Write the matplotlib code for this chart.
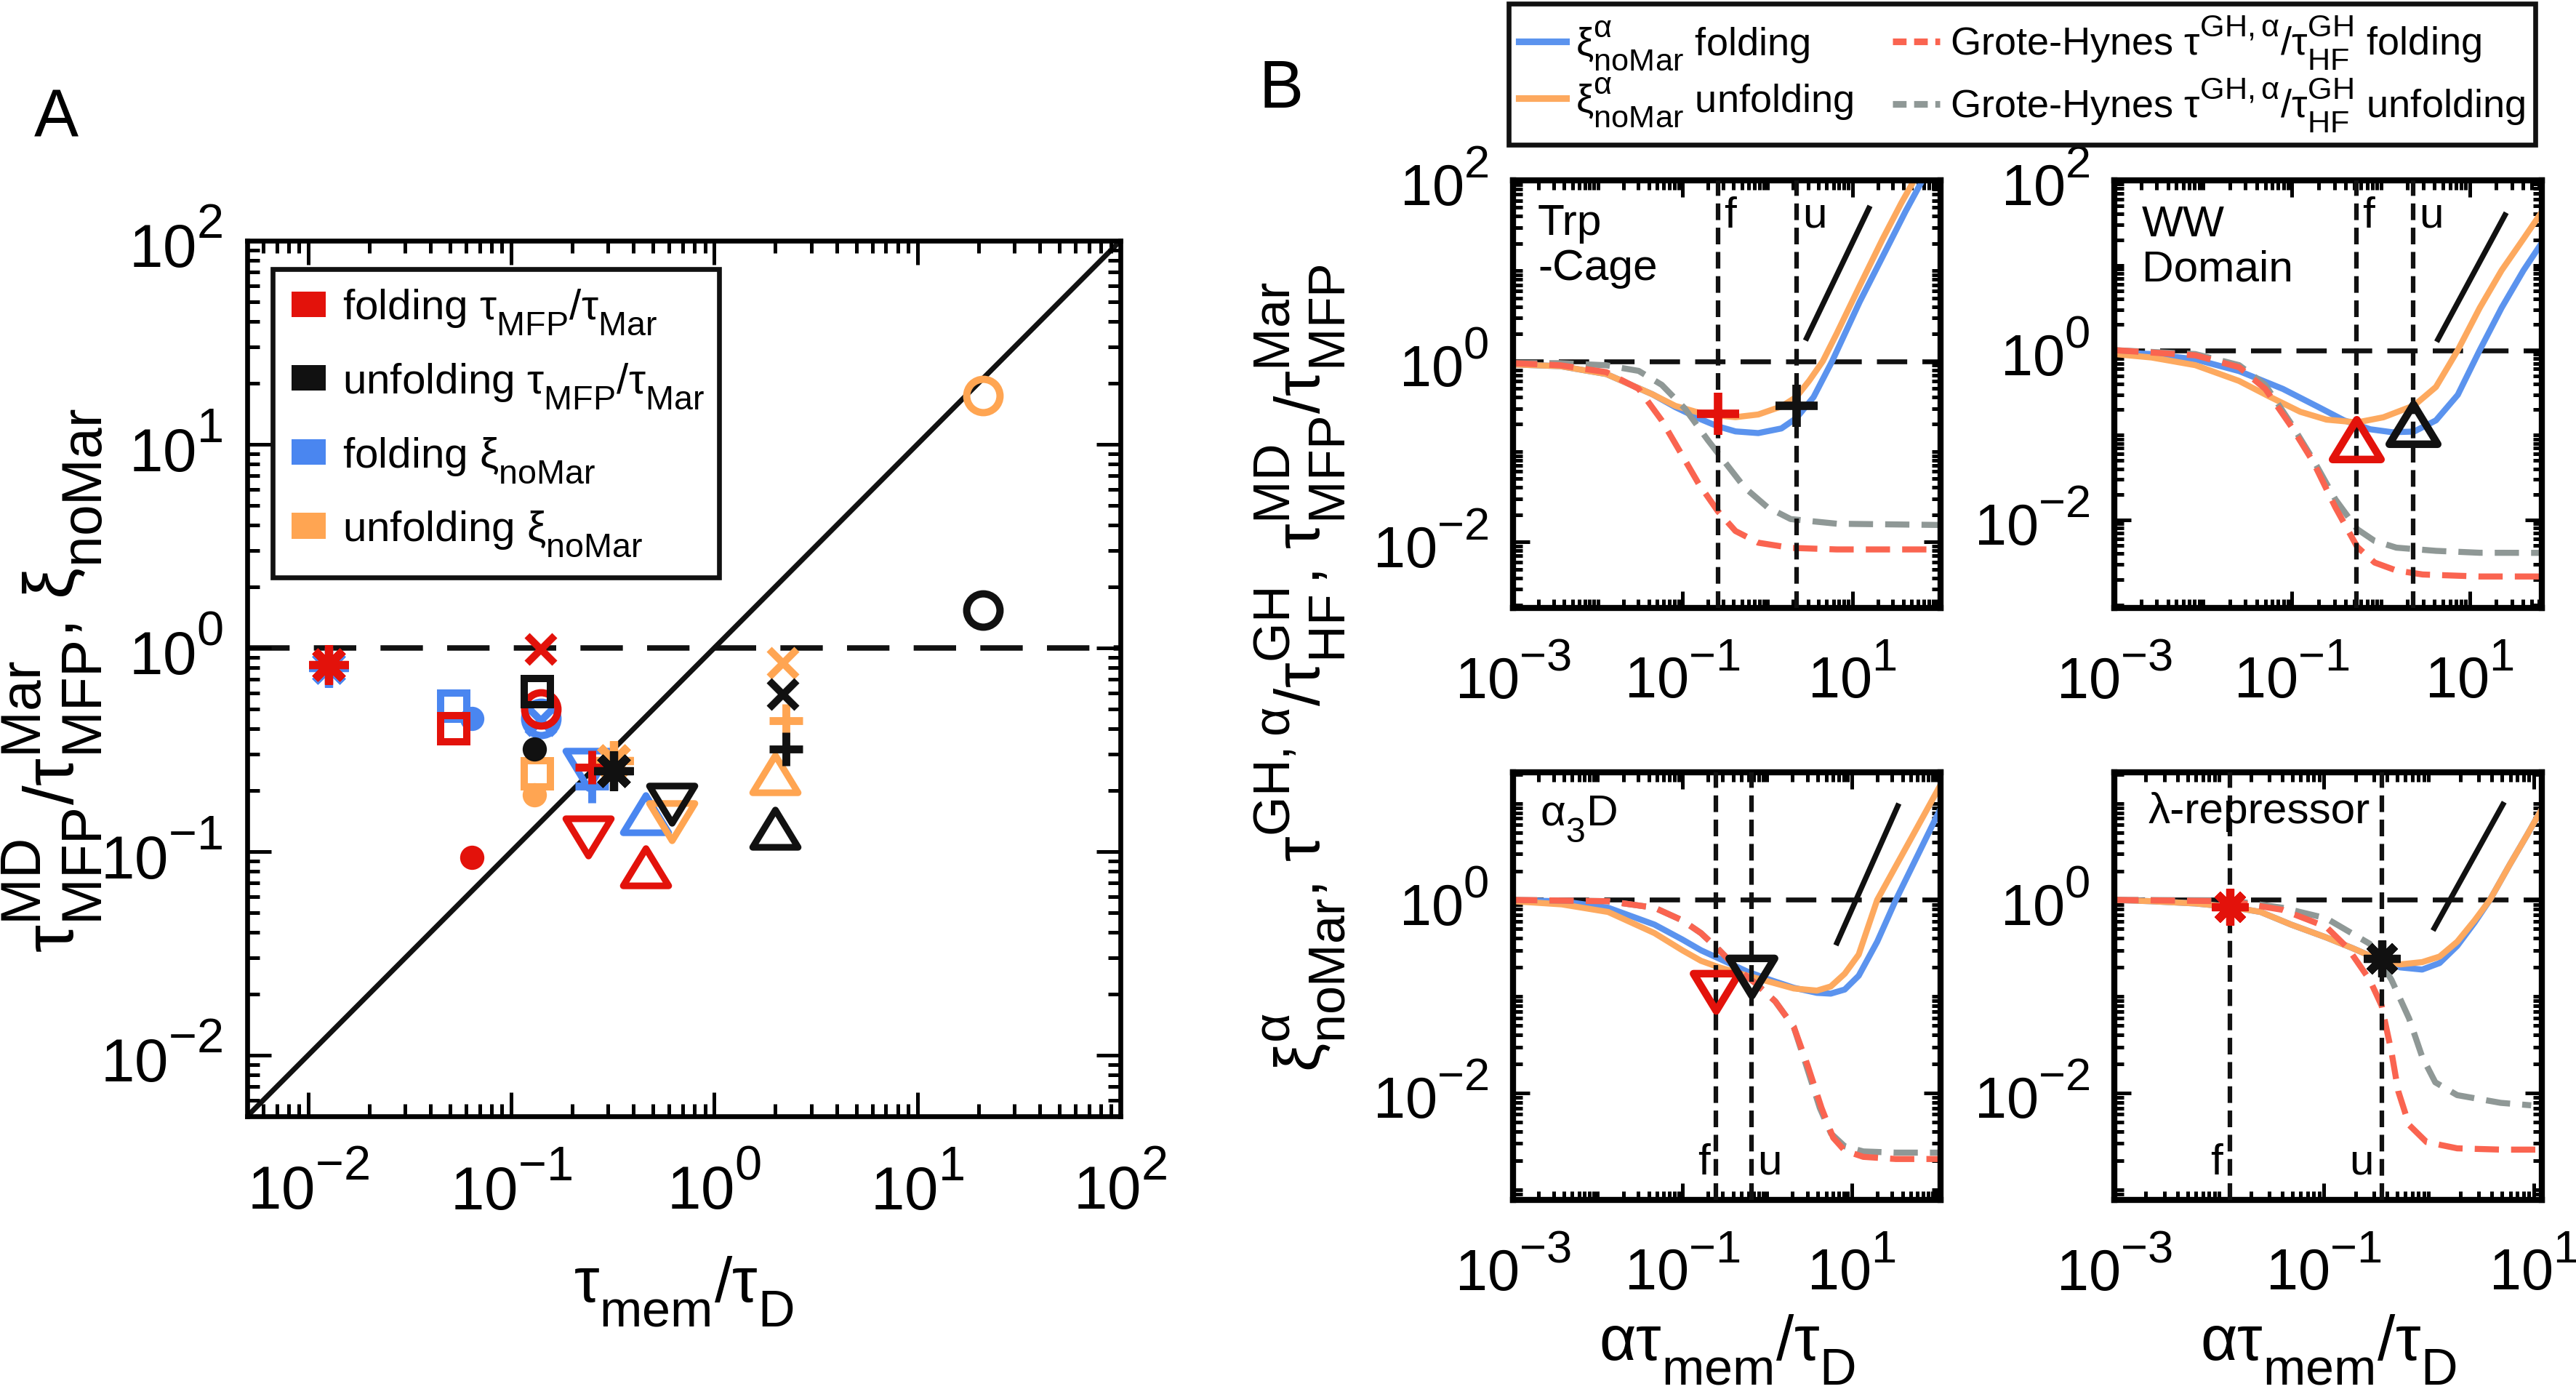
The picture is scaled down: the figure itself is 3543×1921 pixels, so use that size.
import numpy as np
import matplotlib.pyplot as plt
from matplotlib.patches import Patch
from matplotlib.lines import Line2D
from matplotlib.path import Path
from matplotlib.markers import MarkerStyle
from matplotlib.ticker import LogLocator, NullFormatter
import matplotlib._mathtext as mtext

plt.rcParams['font.family'] = ['Liberation Sans', 'DejaVu Sans']
plt.rcParams['mathtext.fontset'] = 'custom'
plt.rcParams['mathtext.rm'] = 'Liberation Sans'
plt.rcParams['mathtext.it'] = 'Liberation Sans'
plt.rcParams['mathtext.default'] = 'regular'
plt.rcParams['axes.unicode_minus'] = False
plt.rcParams['lines.scale_dashes'] = False
# MATLAB-style scripts: a bit larger, subscripts dropped lower, superscripts higher
mtext.SHRINK_FACTOR = 0.8
mtext.FontConstantsBase.sub1 = 0.75
mtext.FontConstantsBase.sub2 = 0.75
mtext.FontConstantsBase.sup1 = 0.9

RED = '#E3120B'
BLACK = '#111111'
BLUE = '#4A86F0'
ORANGE = '#FFA552'
L_BLUE = '#5B93EE'
L_ORANGE = '#FDA95F'
L_RED = '#FA6450'
L_GRAY = '#8F9896'

# ---------------- panel A data (one entry per protein / marker shape)
shapes = ['asterisk', 'plus', 'tri_up', 'tri_down', 'ring', 'dot', 'square', 'cross']
fold_x = [0.0126, 0.25, 0.46, 0.24, 0.14, 0.064, 0.052, 0.14]
unfold_x = [0.32, 2.25, 2.0, 0.62, 21.0, 0.13, 0.134, 2.18]
fold_tau = [0.83, 0.26, 0.084, 0.118, 0.50, 0.094, 0.40, 0.98]
unfold_tau = [0.25, 0.32, 0.13, 0.17, 1.53, 0.32, 0.61, 0.59]
fold_xi = [0.80, 0.21, 0.153, 0.254, 0.45, 0.45, 0.52, 0.44]
unfold_xi = [0.28, 0.44, 0.242, 0.14, 17.3, 0.19, 0.242, 0.84]

# ---------------- panel B data
# Trp-cage
trp_xi_f_x = [0.001, 0.0036, 0.0126, 0.044, 0.082, 0.154, 0.26, 0.42, 0.78, 1.46, 2.18, 3.5, 5.8, 12.2, 22.9, 42.7, 66]
trp_xi_f_y = [0.92, 0.88, 0.72, 0.43, 0.31, 0.233, 0.19, 0.167, 0.16, 0.18, 0.233, 0.40, 1.0, 4.5, 14.4, 45.7, 97]
trp_xi_u_x = [0.001, 0.0036, 0.0126, 0.044, 0.082, 0.154, 0.26, 0.42, 0.78, 1.46, 2.18, 3.1, 4.5, 6.56, 12.2, 22.9, 37.8, 53.6]
trp_xi_u_y = [0.92, 0.88, 0.72, 0.43, 0.32, 0.27, 0.25, 0.24, 0.257, 0.315, 0.40, 0.605, 1.0, 2.02, 6.76, 22.6, 55.8, 100]
trp_gh_f_x = [0.001, 0.0036, 0.0126, 0.0303, 0.0567, 0.0936, 0.154, 0.26, 0.42, 0.78, 1.88, 6.56, 110]
trp_gh_f_y = [0.95, 0.90, 0.755, 0.494, 0.221, 0.099, 0.0443, 0.0219, 0.0132, 0.0098, 0.0086, 0.00826, 0.00826]
trp_gh_u_x = [0.001, 0.0036, 0.0126, 0.0303, 0.0567, 0.106, 0.198, 0.327, 0.538, 1.0, 1.88, 6.56, 110]
trp_gh_u_y = [0.95, 0.95, 0.90, 0.78, 0.547, 0.30, 0.134, 0.073, 0.040, 0.0242, 0.0179, 0.0159, 0.0154]
trp_fu_x = [0.26, 2.2]
trp_fu_y = [0.26, 0.32]
trp_slope_x = [2.9, 15.7]
trp_slope_y = [1.8, 49]

# WW domain
ww_xi_f_x = [0.001, 0.00262, 0.00815, 0.0254, 0.0789, 0.195, 0.386, 0.762, 1.34, 2.37, 4.18, 7.36, 13.0, 22.9, 40.4, 65]
ww_xi_f_y = [0.94, 0.90, 0.78, 0.567, 0.35, 0.216, 0.149, 0.117, 0.108, 0.110, 0.149, 0.298, 1.0, 3.15, 8.7, 18.4]
ww_xi_u_x = [0.001, 0.00262, 0.00815, 0.0254, 0.0561, 0.124, 0.245, 0.542, 1.07, 2.37, 4.18, 7.36, 13.0, 22.9, 40.4, 65]
ww_xi_u_y = [0.90, 0.82, 0.666, 0.434, 0.283, 0.188, 0.152, 0.141, 0.162, 0.223, 0.369, 1.0, 3.15, 8.7, 20.5, 42.5]
ww_gh_f_x = [0.001, 0.00815, 0.0254, 0.0501, 0.0989, 0.174, 0.308, 0.542, 0.853, 1.50, 2.97, 13.0, 65]
ww_gh_f_y = [1.0, 0.87, 0.63, 0.35, 0.125, 0.048, 0.0141, 0.00483, 0.00315, 0.00254, 0.00228, 0.00216, 0.00216]
ww_gh_u_x = [0.001, 0.00815, 0.0254, 0.0501, 0.0989, 0.174, 0.308, 0.542, 0.853, 1.50, 4.18, 13.0, 65]
ww_gh_u_y = [1.0, 0.90, 0.666, 0.39, 0.134, 0.051, 0.0175, 0.0078, 0.00566, 0.00472, 0.00433, 0.00411, 0.0041]
ww_fu_x = [0.53, 2.3]
ww_fu_y = [0.089, 0.134]
ww_slope_x = [4.4, 25]
ww_slope_y = [1.34, 39]

# alpha3D
a3d_xi_f_x = [0.001, 0.00376, 0.0133, 0.0469, 0.1, 0.166, 0.274, 0.585, 1.1, 2.07, 3.88, 5.66, 8.27, 12.1, 20, 33.2, 55, 91, 117]
a3d_xi_f_y = [0.99, 0.97, 0.83, 0.555, 0.389, 0.301, 0.246, 0.181, 0.148, 0.123, 0.109, 0.107, 0.118, 0.164, 0.369, 1.0, 2.47, 6.1, 9.55]
a3d_xi_u_x = [0.001, 0.00376, 0.0133, 0.0469, 0.1, 0.166, 0.274, 0.585, 1.1, 2.07, 3.88, 5.66, 8.27, 12.1, 20, 33.2, 55, 117]
a3d_xi_u_y = [0.97, 0.90, 0.75, 0.453, 0.301, 0.234, 0.20, 0.164, 0.141, 0.121, 0.115, 0.127, 0.172, 0.272, 1.0, 2.24, 5.0, 16.7]
a3d_gh_f_x = [0.001, 0.0133, 0.0469, 0.1, 0.166, 0.274, 0.455, 0.753, 1.25, 2.07, 3.01, 4.4, 6.04, 8.27, 13.7, 33.2, 117]
a3d_gh_f_y = [1.0, 0.97, 0.83, 0.614, 0.453, 0.301, 0.19, 0.134, 0.089, 0.0483, 0.0194, 0.0070, 0.00344, 0.00253, 0.00218, 0.00207, 0.00207]
a3d_gh_u_x = [0.001, 0.0133, 0.0469, 0.1, 0.166, 0.274, 0.455, 0.753, 1.25, 2.07, 2.9, 4.2, 5.7, 8.27, 13.7, 33.2, 117]
a3d_gh_u_y = [1.0, 0.97, 0.83, 0.614, 0.453, 0.301, 0.19, 0.134, 0.089, 0.0483, 0.0194, 0.0070, 0.0038, 0.0028, 0.00248, 0.00241, 0.00241]
a3d_fu_x = [0.25, 0.65]
a3d_fu_y = [0.112, 0.16]
a3d_slope_x = [6.7, 35]
a3d_slope_y = [0.36, 9.4]

# lambda-repressor
lam_xi_f_x = [0.001, 0.00226, 0.0059, 0.0127, 0.0249, 0.0487, 0.105, 0.187, 0.355, 0.536, 0.866, 1.27, 1.87, 2.74, 3.83, 5.9, 8.66, 11.9]
lam_xi_f_y = [1.0, 0.97, 0.92, 0.85, 0.75, 0.555, 0.409, 0.317, 0.234, 0.20, 0.19, 0.222, 0.334, 0.583, 1.0, 2.3, 4.69, 8.63]
lam_xi_u_x = [0.001, 0.00226, 0.0059, 0.0127, 0.0249, 0.0487, 0.105, 0.187, 0.355, 0.536, 0.866, 1.27, 1.87, 2.74, 3.83, 5.9, 8.66, 11.9]
lam_xi_u_y = [1.0, 0.97, 0.92, 0.85, 0.75, 0.555, 0.409, 0.317, 0.234, 0.215, 0.227, 0.259, 0.369, 0.614, 1.0, 2.3, 4.69, 8.63]
lam_gh_f_x = [0.001, 0.0127, 0.0402, 0.105, 0.169, 0.274, 0.355, 0.442, 0.511, 0.649, 0.953, 1.87, 4.87, 11.9]
lam_gh_f_y = [1.0, 0.97, 0.79, 0.527, 0.317, 0.148, 0.0804, 0.0263, 0.0105, 0.00467, 0.0031, 0.00267, 0.00259, 0.00259]
lam_gh_u_x = [0.001, 0.0127, 0.0402, 0.105, 0.274, 0.442, 0.649, 0.866, 1.155, 1.87, 4.87, 9.5]
lam_gh_u_y = [1.0, 0.99, 0.83, 0.646, 0.351, 0.148, 0.0593, 0.0237, 0.0129, 0.0095, 0.0079, 0.00745]
lam_fu_x = [0.0127, 0.355]
lam_fu_y = [0.85, 0.246]
lam_slope_x = [1.13, 5.1]
lam_slope_y = [0.51, 9.75]


def tri(up=True):
    s = 1 if up else -1
    p = Path([(-1, -0.82 * s), (1, -0.82 * s), (0, 0.82 * s), (0, 0)],
             [Path.MOVETO, Path.LINETO, Path.LINETO, Path.CLOSEPOLY])
    return MarkerStyle(p, joinstyle='miter')


marker_kw = {
    'asterisk': dict(marker=(8, 2, 0), ms=13, mew=2.7),
    'plus': dict(marker='+', ms=11, mew=2.6),
    'tri_up': dict(marker=tri(True), ms=15, mew=2.2, mfc='none'),
    'tri_down': dict(marker=tri(False), ms=15, mew=2.2, mfc='none'),
    'ring': dict(marker='o', ms=11, mew=2.4, mfc='none'),
    'dot': dict(marker='o', ms=8, mew=0),
    'square': dict(marker='s', ms=8.5, mew=2.4, mfc='none'),
    'cross': dict(marker='x', ms=9, mew=2.4),
}


def style_axes(ax, lw, lsize, maj, mino):
    for s in ax.spines.values():
        s.set_linewidth(lw)
    ax.tick_params(which='both', direction='in', top=True, right=True, width=1.2, labelsize=lsize)
    ax.tick_params(which='major', length=maj)
    ax.tick_params(which='minor', length=mino)


W, H = 3543, 1921
fig = plt.figure(figsize=(W / 300, H / 300), dpi=300)

# ================= panel A
axA = fig.add_axes([340 / W, 1 - 1535 / H, 1201 / W, 1204 / H])
axA.set_xscale('log')
axA.set_yscale('log')
lim = [10 ** -2.3, 100]
axA.set_xlim(lim)
axA.set_ylim(lim)
axA.plot(lim, lim, color=BLACK, lw=1.7, zorder=1)
axA.axhline(1, color=BLACK, lw=1.8, dashes=(14, 8), zorder=1)

series = [(fold_x, fold_xi, BLUE), (unfold_x, unfold_xi, ORANGE),
          (fold_x, fold_tau, RED), (unfold_x, unfold_tau, BLACK)]
for xs, ys, c in series:
    for sh, xv, yv in zip(shapes, xs, ys):
        kw = dict(marker_kw[sh])
        if sh == 'dot':
            kw['mfc'] = c
        axA.plot([xv], [yv], linestyle='none', mec=c, zorder=3, **kw)

axA.set_xticks([1e-2, 1e-1, 1, 10, 100])
axA.set_yticks([1e-2, 1e-1, 1, 10, 100])
for a in (axA.xaxis, axA.yaxis):
    a.set_minor_locator(LogLocator(base=10, subs=np.arange(2, 10), numticks=100))
    a.set_minor_formatter(NullFormatter())
style_axes(axA, 1.6, 20, 8, 4)
axA.tick_params(axis='x', pad=13)
axA.tick_params(axis='y', pad=8)

handles = [Patch(facecolor=c, edgecolor='none') for c in (RED, BLACK, BLUE, ORANGE)]
labels = [r'folding $τ_{MFP}/τ_{Mar}$', r'unfolding $τ_{MFP}/τ_{Mar}$',
          r'folding $ξ_{noMar}$', r'unfolding $ξ_{noMar}$']
legA = axA.legend(handles, labels, loc='upper left', bbox_to_anchor=(0.029, 0.616, 0.511, 0.352),
                  mode='expand', borderaxespad=0, fontsize=14, handlelength=0.8,
                  handleheight=0.55, handletextpad=0.4, labelspacing=0.58, borderpad=0.45,
                  fancybox=False, edgecolor=BLACK, framealpha=1)
legA.get_frame().set_linewidth(1.6)

fig.text(940 / W, 1 - 1790 / H, r'$τ_{mem}/τ_{D}$', fontsize=21, ha='center', va='baseline')
fig.text(72 / W, 1 - 936 / H, r'$τ^{MD}_{MFP}/τ^{Mar}_{MFP}$, $ξ_{noMar}$', fontsize=23,
         rotation=90, ha='center', va='center')
fig.text(77 / W, 1 - 165 / H, 'A', fontsize=22, ha='center', va='center')
fig.text(1762 / W, 1 - 124 / H, 'B', fontsize=22, ha='center', va='center')

# ================= panel B
colL, colR = 2081 / W, 2908 / W
rowT, rowB = 1 - 836 / H, 1 - 1650 / H
aw, ah = 588 / W, 588 / H
panelsB = [
    dict(pos=[colL, rowT, aw, ah], xlim=(1e-3, 110), ylim=(0.00186, 100), yt=[1e-2, 1, 1e2],
         xi_f=(trp_xi_f_x, trp_xi_f_y), xi_u=(trp_xi_u_x, trp_xi_u_y),
         gh_f=(trp_gh_f_x, trp_gh_f_y), gh_u=(trp_gh_u_x, trp_gh_u_y),
         fu=(trp_fu_x, trp_fu_y), slope=(trp_slope_x, trp_slope_y), mk='plus',
         name='Trp\n-Cage', name_xy=(0.058, 0.945), name_va='top', top_fu=True),
    dict(pos=[colR, rowT, aw, ah], xlim=(1e-3, 65), ylim=(0.00092, 100), yt=[1e-2, 1, 1e2],
         xi_f=(ww_xi_f_x, ww_xi_f_y), xi_u=(ww_xi_u_x, ww_xi_u_y),
         gh_f=(ww_gh_f_x, ww_gh_f_y), gh_u=(ww_gh_u_x, ww_gh_u_y),
         fu=(ww_fu_x, ww_fu_y), slope=(ww_slope_x, ww_slope_y), mk='tri_up',
         name='WW\nDomain', name_xy=(0.064, 0.942), name_va='top', top_fu=True),
    dict(pos=[colL, rowB, aw, ah], xlim=(1e-3, 112), ylim=(0.00078, 21), yt=[1e-2, 1],
         xi_f=(a3d_xi_f_x, a3d_xi_f_y), xi_u=(a3d_xi_u_x, a3d_xi_u_y),
         gh_f=(a3d_gh_f_x, a3d_gh_f_y), gh_u=(a3d_gh_u_x, a3d_gh_u_y),
         fu=(a3d_fu_x, a3d_fu_y), slope=(a3d_slope_x, a3d_slope_y), mk='tri_down',
         name=r'$α_{3}$D', name_xy=(0.063, 0.89), name_va='center', top_fu=False),
    dict(pos=[colR, rowB, aw, ah], xlim=(1e-3, 12), ylim=(0.00078, 21), yt=[1e-2, 1],
         xi_f=(lam_xi_f_x, lam_xi_f_y), xi_u=(lam_xi_u_x, lam_xi_u_y),
         gh_f=(lam_gh_f_x, lam_gh_f_y), gh_u=(lam_gh_u_x, lam_gh_u_y),
         fu=(lam_fu_x, lam_fu_y), slope=(lam_slope_x, lam_slope_y), mk='asterisk',
         name='λ-repressor', name_xy=(0.08, 0.907), name_va='center', top_fu=False),
]
mk_size = {'plus': (14, 2.8), 'tri_up': (16, 2.5), 'tri_down': (15, 2.5), 'asterisk': (12, 2.7)}

for i, p in enumerate(panelsB):
    ax = fig.add_axes(p['pos'])
    ax.set_xscale('log')
    ax.set_yscale('log')
    ax.set_xlim(p['xlim'])
    ax.set_ylim(p['ylim'])
    ax.axhline(1, color=BLACK, lw=1.6, dashes=(10, 5), zorder=1)
    ax.plot(*p['xi_f'], color=L_BLUE, lw=2.0, zorder=2)
    ax.plot(*p['xi_u'], color=L_ORANGE, lw=2.0, zorder=2)
    ax.plot(*p['gh_u'], color=L_GRAY, lw=2.0, dashes=(8, 4), zorder=2)
    ax.plot(*p['gh_f'], color=L_RED, lw=2.0, dashes=(8, 4), zorder=2)
    for xv in p['fu'][0]:
        ax.axvline(xv, color=BLACK, lw=1.5, dashes=(5.5, 2.5), zorder=3)
    ax.plot(*p['slope'], color=BLACK, lw=1.8, zorder=3)
    ms, mew = mk_size[p['mk']]
    kw = dict(marker_kw[p['mk']])
    kw['ms'] = ms
    kw['mew'] = mew
    for xv, yv, c in zip(p['fu'][0], p['fu'][1], (RED, BLACK)):
        ax.plot([xv], [yv], linestyle='none', mec=c, zorder=4, **kw)

    ax.set_xticks([1e-3, 1e-1, 1e1])
    ax.set_yticks(p['yt'])
    for a in (ax.xaxis, ax.yaxis):
        a.set_minor_locator(LogLocator(base=10, subs=np.arange(1, 10), numticks=100))
        a.set_minor_formatter(NullFormatter())
    style_axes(ax, 2.0, 19, 5.5, 3)
    ax.tick_params(axis='x', pad=13)
    ax.tick_params(axis='y', pad=8)
    ax.set_xlim(p['xlim'])
    ax.set_ylim(p['ylim'])

    ax.text(*p['name_xy'], p['name'], transform=ax.transAxes, fontsize=14.5,
            ha='left', va=p['name_va'], linespacing=1.15)
    # f / u labels next to the vertical lines
    trans = ax.get_xaxis_transform()
    fx, ux = p['fu'][0]
    if p['top_fu']:
        ax.text(fx * 1.18, 0.89, 'f', transform=trans, fontsize=14.5, ha='left', va='baseline')
        ax.text(ux * 1.18, 0.89, 'u', transform=trans, fontsize=14.5, ha='left', va='baseline')
    elif i == 2:
        ax.text(fx / 1.18, 0.06, 'f', transform=trans, fontsize=14.5, ha='right', va='baseline')
        ax.text(ux * 1.18, 0.06, 'u', transform=trans, fontsize=14.5, ha='left', va='baseline')
    else:
        ax.text(fx / 1.18, 0.06, 'f', transform=trans, fontsize=14.5, ha='right', va='baseline')
        ax.text(ux / 1.18, 0.06, 'u', transform=trans, fontsize=14.5, ha='right', va='baseline')
    if i >= 2:
        cx = p['pos'][0] + aw / 2
        fig.text(cx, 1 - 1870 / H, r'$ατ_{mem}/τ_{D}$', fontsize=21, ha='center', va='baseline')

fig.text(1789 / W, 0.522,
         r'$ξ^{α}_{noMar}$, $τ^{GH,α}/τ^{GH}_{HF}$, $τ^{MD}_{MFP}/τ^{Mar}_{MFP}$',
         fontsize=21, rotation=90, ha='center', va='center')

hB = [Line2D([], [], color=L_BLUE, lw=2.2), Line2D([], [], color=L_ORANGE, lw=2.2),
      Line2D([], [], color=L_RED, lw=2.2, dashes=(4.5, 2.5)),
      Line2D([], [], color=L_GRAY, lw=2.2, dashes=(4.5, 2.5))]
lB = [r'$ξ^{α}_{noMar}$ folding', r'$ξ^{α}_{noMar}$ unfolding',
      r'Grote-Hynes $τ^{GH,α}/τ^{GH}_{HF}$ folding', r'Grote-Hynes $τ^{GH,α}/τ^{GH}_{HF}$ unfolding']
legB = fig.legend(hB, lB, loc='upper left', bbox_to_anchor=(2075 / W, 1 - 5 / H), ncol=2,
                  fontsize=13, handlelength=1.2, handletextpad=0.25, columnspacing=1.0,
                  labelspacing=0.1, borderpad=0.25, borderaxespad=0, fancybox=False,
                  edgecolor=BLACK, framealpha=1)
legB.get_frame().set_linewidth(1.6)

fig.savefig('out.png', dpi=300)
